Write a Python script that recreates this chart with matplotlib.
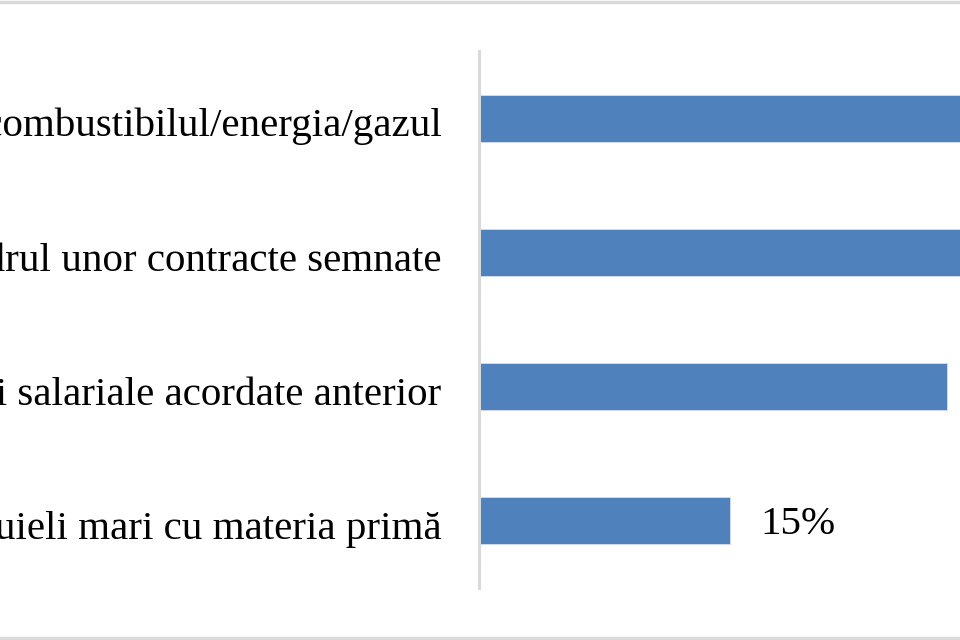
import matplotlib.pyplot as plt
import matplotlib.transforms as mtransforms
from matplotlib.lines import Line2D

categories = [
    "Creșterea prețurilor la combustibilul/energia/gazul",
    "Creșteri de prețuri în cadrul unor contracte semnate",
    "Creșterii salariale acordate anterior",
    "Cheltuieli mari cu materia primă",
]
values = [36, 33, 28, 15]

plt.rcParams['font.family'] = ['Liberation Serif', 'DejaVu Serif']

fig = plt.figure(figsize=(9.6, 6.4), dpi=100)

# axes: x=0 sits at pixel 479, 1% ~ 16.7 px, runs off the right edge
px_per_pct = 16.7
xmax = 40
left = 479 / 960
width = xmax * px_per_pct / 960
bottom = 1 - 588 / 640
height = (588 - 51) / 640
ax = fig.add_axes([left, bottom, width, height])

# small downward nudge for all texts
nudge = mtransforms.ScaledTranslation(0, -4 / 100, fig.dpi_scale_trans)

y = list(range(len(categories)))
ax.barh(y, values, height=0.35, color='#4f81bd', edgecolor='#d6e0ee', linewidth=0.6)
for yi, v in zip(y, values):
    ax.text(v + 1.85, yi, f"{v}%", va='center', ha='left', fontsize=29.5,
            transform=ax.transData + nudge)

ax.set_xlim(0, xmax)
ax.set_ylim(len(categories) - 0.5, -0.5)
ax.set_yticks(y)
ax.set_yticklabels(categories, fontsize=29.5)
ax.tick_params(axis='y', length=0, pad=27)
for lbl in ax.get_yticklabels():
    lbl.set_transform(lbl.get_transform() + nudge)
ax.set_xticks([])
for s in ['top', 'right', 'bottom']:
    ax.spines[s].set_visible(False)
ax.spines['left'].set_color('#d9d9d9')
ax.spines['left'].set_linewidth(2.2)

# outer chart frame (only top and bottom edges visible)
fig.add_artist(Line2D([0, 1], [1 - 1.5 / 640, 1 - 1.5 / 640], color='#d9d9d9', lw=2.5))
fig.add_artist(Line2D([0, 1], [2 / 640, 2 / 640], color='#d9d9d9', lw=2.5))

fig.savefig("out.png", dpi=100)
